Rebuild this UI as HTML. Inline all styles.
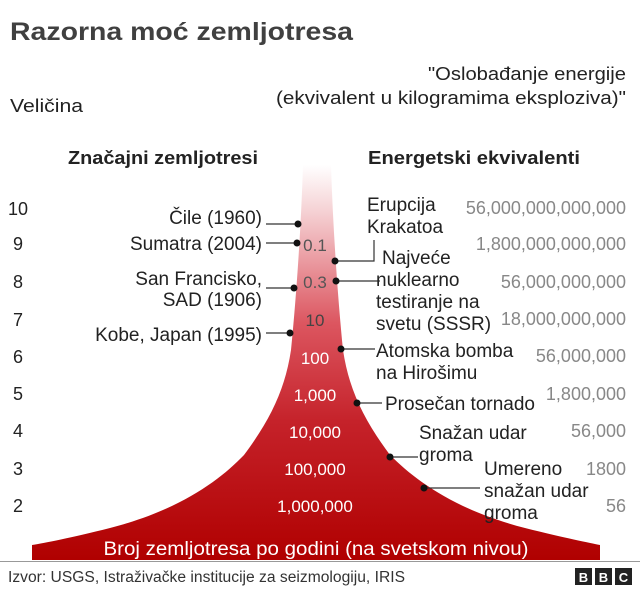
<!DOCTYPE html>
<html><head><meta charset="utf-8"><style>
body{margin:0;background:#fff;width:640px;height:588px;overflow:hidden}
svg text{font-family:"Liberation Sans",sans-serif}
</style></head><body>
<svg width="640" height="588" viewBox="0 0 640 588" xmlns="http://www.w3.org/2000/svg">
<defs><linearGradient id="g" x1="0" y1="0" x2="0" y2="1">
<stop offset="0" stop-color="#fff"/><stop offset="0.12" stop-color="#f5d0d3"/><stop offset="0.4" stop-color="#dc5660"/><stop offset="0.65" stop-color="#c5222a"/><stop offset="1" stop-color="#b00000"/></linearGradient></defs>
<text x="10" y="40" font-size="25" font-weight="bold" fill="#404040" textLength="343" lengthAdjust="spacingAndGlyphs">Razorna moć zemljotresa</text>
<text x="626" y="80" font-size="18" fill="#222" text-anchor="end" textLength="198" lengthAdjust="spacingAndGlyphs">"Oslobađanje energije</text>
<text x="626" y="104" font-size="18" fill="#222" text-anchor="end" textLength="350" lengthAdjust="spacingAndGlyphs">(ekvivalent u kilogramima eksploziva)"</text>
<text x="10" y="112" font-size="18" fill="#222" textLength="73" lengthAdjust="spacingAndGlyphs">Veličina</text>
<text x="68" y="164" font-size="18" font-weight="bold" fill="#222" textLength="190" lengthAdjust="spacingAndGlyphs">Značajni zemljotresi</text>
<text x="368" y="164" font-size="18" font-weight="bold" fill="#222" textLength="212" lengthAdjust="spacingAndGlyphs">Energetski ekvivalenti</text>
<path d="M303,165 C301,230 296,300 291,350 C285,390 270,420 244,455 C220,480 180,510 110,528 C70,538 45,543 32,545 L32,560 L600,560 L600,545 C590,543 565,538 525,528 C455,510 415,480 390,455 C364,420 349,390 343,350 C338,300 333,230 331,165 Z" fill="url(#g)"/>
<g font-size="18" fill="#222">
<text x="8" y="215">10</text><text x="13" y="250">9</text><text x="13" y="288">8</text><text x="13" y="326">7</text><text x="13" y="363">6</text><text x="13" y="400">5</text><text x="13" y="437">4</text><text x="13" y="475">3</text><text x="13" y="512">2</text>
</g>
<g font-size="19" fill="#222" text-anchor="end">
<text x="262" y="224">Čile (1960)</text>
<text x="262" y="250">Sumatra (2004)</text>
<text x="262" y="285">San Francisko,</text>
<text x="262" y="306">SAD (1906)</text>
<text x="262" y="341">Kobe, Japan (1995)</text>
</g>
<g stroke="#333" stroke-width="1.2" fill="none">
<line x1="266" y1="224" x2="298" y2="224"/>
<line x1="266" y1="243" x2="297" y2="243"/>
<line x1="266" y1="288" x2="294" y2="288"/>
<line x1="266" y1="333" x2="290" y2="333"/>
<polyline points="336,261 374,261 374,240"/>
<line x1="336" y1="281" x2="380" y2="281"/>
<line x1="341" y1="349" x2="375" y2="349"/>
<line x1="357" y1="403" x2="382" y2="403"/>
<line x1="390" y1="457" x2="418" y2="457"/>
<line x1="424" y1="488" x2="480" y2="488"/>
</g>
<g fill="#111">
<circle cx="298" cy="224" r="3.5"/><circle cx="297" cy="243" r="3.5"/><circle cx="335" cy="261" r="3.5"/><circle cx="294" cy="288" r="3.5"/><circle cx="336" cy="281" r="3.5"/><circle cx="290" cy="333" r="3.5"/><circle cx="341" cy="349" r="3.5"/><circle cx="357" cy="403" r="3.5"/><circle cx="390" cy="457" r="3.5"/><circle cx="424" cy="488" r="3.5"/>
</g>
<g font-size="17" text-anchor="middle">
<text x="315" y="251" fill="#555">0.1</text>
<text x="315" y="288" fill="#555">0.3</text>
<text x="315" y="326" fill="#444">10</text>
<text x="315" y="364" fill="#fff">100</text>
<text x="315" y="401" fill="#fff">1,000</text>
<text x="315" y="438" fill="#fff">10,000</text>
<text x="315" y="475" fill="#fff">100,000</text>
<text x="315" y="512" fill="#fff">1,000,000</text>
</g>
<g font-size="19" fill="#222">
<text x="367" y="211">Erupcija</text><text x="367" y="233">Krakatoa</text>
<text x="382" y="264">Najveće</text><text x="376" y="286">nuklearno</text><text x="376" y="308">testiranje na</text><text x="376" y="330">svetu (SSSR)</text>
<text x="376" y="357">Atomska bomba</text><text x="376" y="379">na Hirošimu</text>
<text x="385" y="410">Prosečan tornado</text>
<text x="419" y="439">Snažan udar</text><text x="419" y="461">groma</text>
<text x="484" y="475">Umereno</text><text x="484" y="497">snažan udar</text><text x="484" y="519">groma</text>
</g>
<g font-size="18" fill="#888" text-anchor="end">
<text x="626" y="214">56,000,000,000,000</text>
<text x="626" y="250">1,800,000,000,000</text>
<text x="626" y="288">56,000,000,000</text>
<text x="626" y="325">18,000,000,000</text>
<text x="626" y="362">56,000,000</text>
<text x="626" y="400">1,800,000</text>
<text x="626" y="437">56,000</text>
<text x="626" y="475">1800</text>
<text x="626" y="512">56</text>
</g>
<text x="316" y="555" font-size="19" fill="#fff" text-anchor="middle" textLength="425" lengthAdjust="spacingAndGlyphs">Broj zemljotresa po godini (na svetskom nivou)</text>
<line x1="0" y1="561.5" x2="640" y2="561.5" stroke="#999" stroke-width="1"/>
<text x="8" y="582" font-size="15.5" fill="#333" textLength="397" lengthAdjust="spacingAndGlyphs">Izvor: USGS, Istraživačke institucije za seizmologiju, IRIS</text>
<g font-size="13" font-weight="bold" fill="#fff" text-anchor="middle">
<rect x="575" y="568" width="17" height="17" fill="#222"/><text x="583.5" y="582">B</text>
<rect x="595" y="568" width="17" height="17" fill="#222"/><text x="603.5" y="582">B</text>
<rect x="615" y="568" width="17" height="17" fill="#222"/><text x="623.5" y="582">C</text>
</g>
</svg>
</body></html>
